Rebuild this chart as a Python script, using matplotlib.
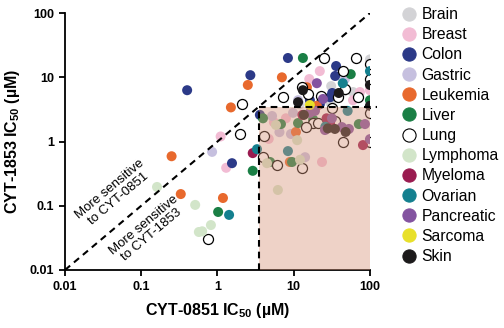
import matplotlib
matplotlib.use("Agg")
import matplotlib.pyplot as plt
from matplotlib.lines import Line2D
from matplotlib.patches import Rectangle

plt.rcParams["font.family"] = ["Liberation Sans", "DejaVu Sans"]
plt.rcParams["mathtext.fontset"] = "custom"
plt.rcParams["mathtext.rm"] = "Liberation Sans"
plt.rcParams["mathtext.bf"] = "Liberation Sans:bold"

# IC50 values (µM) per tumour type: x = CYT-0851, y = CYT-1853
brain_x = [100, 31, 60, 30, 12, 45]
brain_y = [19, 7.3, 5.9, 4.1, 3.8, 6.0]

breast_x = [1.1, 1.3, 22, 16, 100, 74, 7.9, 4.7, 23.5, 5.5, 60]
breast_y = [1.2, 0.39, 12.5, 9.4, 6.3, 5.9, 2.3, 1.1, 0.48, 2.0, 4.4]

colon_x = [0.40, 2.7, 3.6, 1.55, 8.4, 36, 35, 32, 30, 16.3, 22]
colon_y = [6.3, 10.8, 2.6, 0.46, 20, 15, 10.5, 5.7, 4.9, 4.4, 3.8]

gastric_x = [0.85, 5.2, 9.8, 9.2, 47, 14.1, 11.4, 6.5]
gastric_y = [0.69, 2.5, 2.8, 1.31, 9.4, 0.57, 4.4, 1.4]

leukemia_x = [0.25, 0.33, 1.18, 2.5, 1.5, 7.0, 14.9, 20.1, 10.7, 8.9]
leukemia_y = [0.59, 0.152, 0.132, 7.6, 3.4, 10, 7.0, 3.6, 1.41, 0.48]

liver_x = [13.2, 56, 100, 2.9, 1.02, 3.95, 6.8, 11.4, 9.5, 4.9, 71.5, 18]
liver_y = [20, 11.2, 4.4, 0.35, 0.080, 2.3, 1.87, 1.94, 0.48, 0.48, 1.87, 2.2]

lung_x = [2.1, 1.97, 0.75, 24.9, 65, 44, 100, 47, 12.9, 15.4, 22.8, 38, 69,
          7.2, 31.7, 100, 17.9, 20.7, 34.7, 14.5, 4.1, 3.95, 6.0, 12.9, 44,
          100, 100]
lung_y = [3.8, 1.31, 0.030, 20, 20, 12.5, 9.4, 6.6, 7.0, 5.5, 5.1, 4.9, 4.9,
          4.9, 3.3, 2.8, 1.94, 1.94, 2.08, 1.68, 1.22, 0.57, 0.43, 0.39, 0.98,
          0.98, 16]

lymphoma_x = [0.161, 0.51, 0.82, 0.63, 0.57, 5.85, 11.1, 4.46, 6.2, 12.1]
lymphoma_y = [0.196, 0.103, 0.050, 0.040, 0.039, 1.81, 1.05, 0.46, 0.176, 0.52]

myeloma_x = [2.9, 30, 81, 27, 13]
myeloma_y = [0.66, 1.94, 0.88, 2.3, 2.6]

ovarian_x = [3.3, 1.42, 100, 44, 51, 8.4, 26]
ovarian_y = [0.76, 0.072, 12.5, 8.1, 3.0, 0.71, 1.7]

pancreatic_x = [20.1, 24.2, 16.3, 25.7, 31.7, 42.8, 53, 86, 100, 19]
pancreatic_y = [8.1, 4.6, 2.8, 1.51, 2.3, 1.68, 1.57, 1.87, 1.09, 3.0]

sarcoma_x = [16.3]
sarcoma_y = [3.7]

skin_x = [13.2, 11.4, 100, 100, 39, 13.6, 34.7, 48, 28]
skin_y = [6.3, 4.1, 7.6, 3.6, 5.7, 2.6, 1.57, 1.41, 1.6]

x_cut = 3.5
y_cut = 3.4

groups = [
    ("Brain", brain_x, brain_y, "#D3D3D6"),
    ("Breast", breast_x, breast_y, "#F2BCD4"),
    ("Colon", colon_x, colon_y, "#2C3A88"),
    ("Gastric", gastric_x, gastric_y, "#C6C0DF"),
    ("Leukemia", leukemia_x, leukemia_y, "#E8692D"),
    ("Liver", liver_x, liver_y, "#1A7F45"),
    ("Lung", lung_x, lung_y, "white"),
    ("Lymphoma", lymphoma_x, lymphoma_y, "#D2E5C9"),
    ("Myeloma", myeloma_x, myeloma_y, "#9A1B50"),
    ("Ovarian", ovarian_x, ovarian_y, "#14808F"),
    ("Pancreatic", pancreatic_x, pancreatic_y, "#8353A0"),
    ("Sarcoma", sarcoma_x, sarcoma_y, "#E8E02A"),
    ("Skin", skin_x, skin_y, "#1C1A1B"),
]

fig = plt.figure(figsize=(5.04, 3.28), dpi=100)
ax = fig.add_axes([0.129, 0.177, 0.605, 0.783])

for name, xs, ys, col in groups:
    edge = "black" if name == "Lung" else "none"
    ax.scatter(xs, ys, s=52, facecolor=col, edgecolor=edge, linewidth=0.9,
               zorder=2)

# shaded quadrant laid over the points
ax.add_patch(Rectangle((x_cut, 0.01), 100 - x_cut, y_cut - 0.01,
                       facecolor="#D8957A", alpha=0.42, edgecolor="none",
                       zorder=3))

dash = dict(color="black", linewidth=1.5, linestyle=(0, (3.2, 2.4)), zorder=4)
ax.plot([0.01, 100], [0.01, 100], **dash)
ax.plot([x_cut, 122], [y_cut, y_cut], clip_on=False, **dash)
ax.plot([x_cut, x_cut], [0.01, y_cut], **dash)

ax.set_xscale("log")
ax.set_yscale("log")
ax.set_xlim(0.01, 100)
ax.set_ylim(0.01, 100)
ticks = [0.01, 0.1, 1, 10, 100]
tick_labels = ["0.01", "0.1", "1", "10", "100"]
ax.set_xticks(ticks)
ax.set_xticklabels(tick_labels)
ax.set_yticks(ticks)
ax.set_yticklabels(tick_labels)
ax.minorticks_off()
ax.tick_params(direction="out", length=4, width=1.3, labelsize=9, pad=4)
for lab in ax.get_xticklabels() + ax.get_yticklabels():
    lab.set_fontweight("bold")
for side in ("top", "right"):
    ax.spines[side].set_visible(False)
for side in ("left", "bottom"):
    ax.spines[side].set_linewidth(1.3)

ax.set_xlabel(r"CYT-0851 IC$_{\mathbf{50}}$ (µM)", fontsize=11.5,
              fontweight="bold", labelpad=6)
ax.set_ylabel(r"CYT-1853 IC$_{\mathbf{50}}$ (µM)", fontsize=11.5,
              fontweight="bold", labelpad=5)

ax.text(0.044, 0.15, "More sensitive\nto CYT-0851", fontsize=9.5,
        rotation=40, ha="center", va="center", rotation_mode="anchor",
        multialignment="center", linespacing=1.05, zorder=5)
ax.text(0.122, 0.042, "More sensitive\nto CYT-1853", fontsize=9.5,
        rotation=40, ha="center", va="center", rotation_mode="anchor",
        multialignment="center", linespacing=1.05, zorder=5)

handles = [Line2D([], [], linestyle="none", marker="o", markersize=9.5,
                  markerfacecolor=col,
                  markeredgecolor=("black" if name == "Lung" else col),
                  markeredgewidth=0.8, label=name)
           for name, _, _, col in groups]
fig.legend(handles=handles, loc="upper left",
           bbox_to_anchor=(401 / 504, 1 - 7 / 328), frameon=False,
           fontsize=11.3, handlelength=1.0, handletextpad=0.3,
           labelspacing=0.33, borderpad=0, borderaxespad=0)

fig.savefig("out.png", dpi=100)
